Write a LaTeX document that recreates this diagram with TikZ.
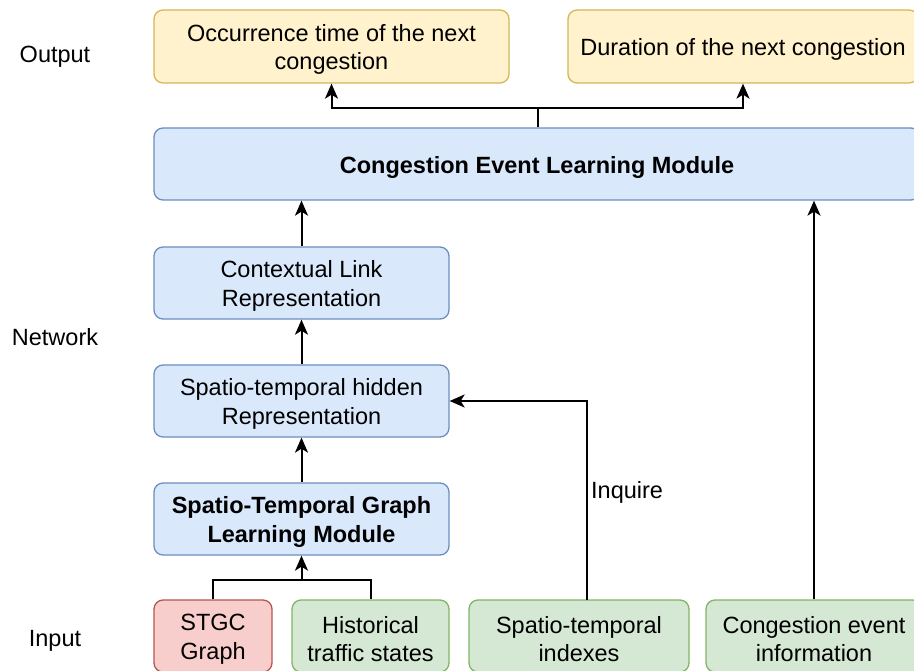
\documentclass[tikz,border=0pt]{standalone}
\usepackage{fontspec}
\setmainfont{Liberation Sans}
\usetikzlibrary{arrows.meta,calc}

\definecolor{bluefill}{HTML}{DAE8FC}
\definecolor{bluedraw}{HTML}{6C8EBF}
\definecolor{yelfill}{HTML}{FFF2CC}
\definecolor{yeldraw}{HTML}{D6B656}
\definecolor{grnfill}{HTML}{D5E8D4}
\definecolor{grndraw}{HTML}{82B366}
\definecolor{redfill}{HTML}{F8CECC}
\definecolor{reddraw}{HTML}{B85450}

% invisible strut that lowers the text block a little inside its box
\newcommand{\tallrule}{\rule{0pt}{23pt}}

\tikzset{
  txt/.style={font=\fontsize{23.5}{28.5}\selectfont, align=center, inner sep=0pt},
  box/.style={txt, rectangle, rounded corners=9pt, line width=1.3pt},
  bluebox/.style={box, fill=bluefill, draw=bluedraw},
  yelbox/.style={box, fill=yelfill, draw=yeldraw},
  grnbox/.style={box, fill=grnfill, draw=grndraw},
  redbox/.style={box, fill=redfill, draw=reddraw},
  link/.style={line width=2pt, draw=black},
  arr/.style={link, -{Stealth[length=15pt,width=13pt,inset=4pt]}},
}

\begin{document}
\begin{tikzpicture}[x=1pt, y=-1pt]
  \useasboundingbox (0,0) rectangle (914,671);
  \clip (0,0) rectangle (914,671);

  % layer labels
  \node[txt] (lout) at (55,53) {\tallrule Output};
  \node[txt] (lnet) at (55,334) {\tallrule Network};
  \node[txt] (lin)  at (55,637) {\tallrule Input};

  % output boxes
  \node[yelbox, minimum width=355pt, minimum height=73pt] (out1) at (331.5,46.5)
    {\tallrule Occurrence time of the next\\congestion};
  \node[yelbox, minimum width=350pt, minimum height=73pt] (out2) at (743,46.5)
    {\tallrule Duration of the next congestion};

  % network modules
  \node[bluebox, minimum width=766pt, minimum height=72pt] (celm) at (537,164)
    {\tallrule\bfseries Congestion Event Learning Module};
  \node[bluebox, minimum width=295pt, minimum height=72pt] (clr) at (301.5,283)
    {\tallrule Contextual Link\\Representation};
  \node[bluebox, minimum width=295pt, minimum height=72pt] (sthr) at (301.5,401)
    {\tallrule Spatio-temporal hidden\\Representation};
  \node[bluebox, minimum width=295pt, minimum height=72pt] (stglm) at (301.5,519)
    {\tallrule\bfseries Spatio-Temporal Graph\\\bfseries Learning Module};

  % inputs
  \node[redbox, minimum width=118pt, minimum height=72pt] (stgc) at (213,636)
    {\tallrule STGC\\Graph};
  \node[grnbox, minimum width=157pt, minimum height=72pt] (hist) at (370.5,636)
    {\tallrule Historical\\traffic states};
  \node[grnbox, minimum width=220pt, minimum height=72pt] (sti) at (579,636)
    {\tallrule Spatio-temporal\\indexes};
  \node[grnbox, minimum width=216pt, minimum height=72pt] (cei) at (814,636)
    {\tallrule Congestion event\\information};

  % connectors: module to outputs
  \coordinate (jout) at (538,108);
  \draw[link] (celm.north -| jout) -- (jout);
  \draw[arr] (jout) -| (out1.south);
  \draw[arr] (jout) -| (out2.south);

  % network chain
  \draw[arr] (clr.north) -- (clr.north |- celm.south);
  \draw[arr] (sthr.north) -- (clr.south);
  \draw[arr] (stglm.north) -- (sthr.south);

  % graph inputs merge
  \coordinate (jin) at (301.5,580);
  \draw[link] (stgc.north) |- (jin);
  \draw[link] (hist.north) |- (jin);
  \draw[arr] (jin) -- (stglm.south);

  % inquiry of indexes
  \coordinate (inq) at (587,600);
  \draw[arr] (inq) |- (sthr.east);
  \node[txt, anchor=west] (linq) at (591,489) {\tallrule Inquire};

  % congestion event information
  \draw[arr] (cei.north) -- (cei.north |- celm.south);
\end{tikzpicture}
\end{document}
